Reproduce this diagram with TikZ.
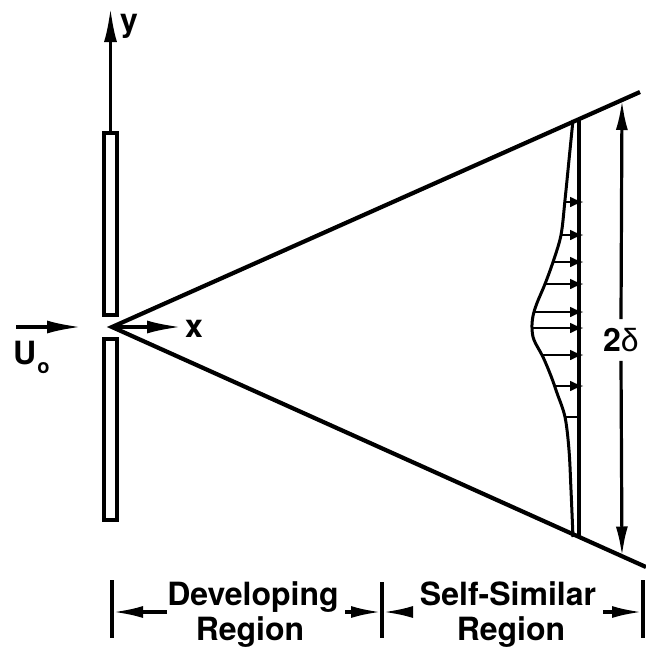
\documentclass[tikz,border=0pt]{standalone}
\usepackage{fontspec}
\setmainfont{TeX Gyre Heros}
\newfontfamily\greekfont{Liberation Sans}
\usetikzlibrary{arrows.meta}
\begin{document}
\begin{tikzpicture}[x=1pt,y=-1pt,
  cone/.style={line width=4.2pt},
  plate/.style={draw,line width=3.4pt,inner sep=0pt,outer sep=0pt,minimum width=13pt},
  axis/.style={line width=3.2pt,-{Latex[length=34pt,width=13pt]}},
  dim/.style={line width=3.2pt,-{Latex[length=30pt,width=12pt]}},
  velo/.style={line width=2.8pt,-{Latex[length=14pt,width=11pt]}},
  tickline/.style={line width=3.2pt},
  lbl/.style={font=\fontsize{32}{36}\selectfont\bfseries,inner sep=0pt}]
\useasboundingbox (0,0) rectangle (646,649);

% plates
\node[plate,minimum height=182pt] (pu) at (110.5,224) {};
\node[plate,minimum height=181pt] (pl) at (110.5,429.5) {};

% axes
\coordinate (O) at (112,327);
\coordinate (ytip) at (110.5,8);
\draw[axis] (pu.north) -- (ytip);
\node[lbl,anchor=base west] (ylab) at (120,31) {y};
\coordinate (xtip) at (181,327);
\draw[axis] (O) -- (xtip);
\node[lbl,anchor=base west] (xlab) at (185,337) {x};

% inflow
\coordinate (us) at (16,327);
\coordinate (ue) at (81,327);
\draw[axis] (us) -- (ue);
\node[lbl,anchor=base west] (ulab) at (13,364) {U\raisebox{-9pt}{\kern1pt\fontsize{20}{20}\selectfont o}};

% cone
\coordinate (cu) at (640,92);
\coordinate (cl) at (646,567);
\draw[cone] (cu) -- (O) -- (cl);

% profile base line
\coordinate (pt) at (579,119.2);
\coordinate (pb) at (579,536.8);
\draw[line width=3.4pt] (pt) -- (pb);

% profile curve
\draw[line width=3pt] plot[smooth,tension=0.55] coordinates {
 (573,120) (569,160) (565,200) (561,235) (553,262) (545,284) (537,303)
 (533,316) (532,328) (534,340) (543,357) (551,376) (557,393) (565,417)
 (569,450) (571,490) (573,537)};

% velocity arrows
\foreach \yy/\xx in {202/565,235/561,262/553,284/545,312/534,328/532,355/542,386/554}
  \draw[velo] (\xx,\yy) -- (584,\yy);
\draw[line width=2.8pt] (565,417) -- (579,417);

% 2 delta
\node[lbl,inner sep=9pt] (dl) at (621,340) {2{\greekfont\mdseries δ}};
\coordinate (dt) at (622,100);
\coordinate (db) at (622,556.5);
\draw[dim] (dl.north) -- (dt);
\draw[dim] (dl.south) -- (db);

% bottom dimensions
\coordinate (t1a) at (112,580); \coordinate (t1b) at (112,638);
\coordinate (t2a) at (382,582); \coordinate (t2b) at (382,638);
\coordinate (t3a) at (643,580); \coordinate (t3b) at (643,638);
\draw[tickline] (t1a) -- (t1b);
\draw[tickline] (t2a) -- (t2b);
\draw[tickline] (t3a) -- (t3b);

\node[lbl,anchor=base] (dev) at (253,605) {Developing};
\node[lbl,anchor=base] (reg1) at (250,640) {Region};
\node[lbl,anchor=base] (ss) at (508,605) {Self-Similar};
\node[lbl,anchor=base] (reg2) at (511,640) {Region};

\coordinate (a1s) at (167,612); \coordinate (a1e) at (113,612);
\coordinate (a2s) at (345,612); \coordinate (a2e) at (381,612);
\coordinate (a3s) at (413,612); \coordinate (a3e) at (383,612);
\coordinate (a4s) at (603,612); \coordinate (a4e) at (642,612);
\draw[dim] (a1s) -- (a1e);
\draw[dim] (a2s) -- (a2e);
\draw[dim] (a3s) -- (a3e);
\draw[dim] (a4s) -- (a4e);
\end{tikzpicture}
\end{document}
